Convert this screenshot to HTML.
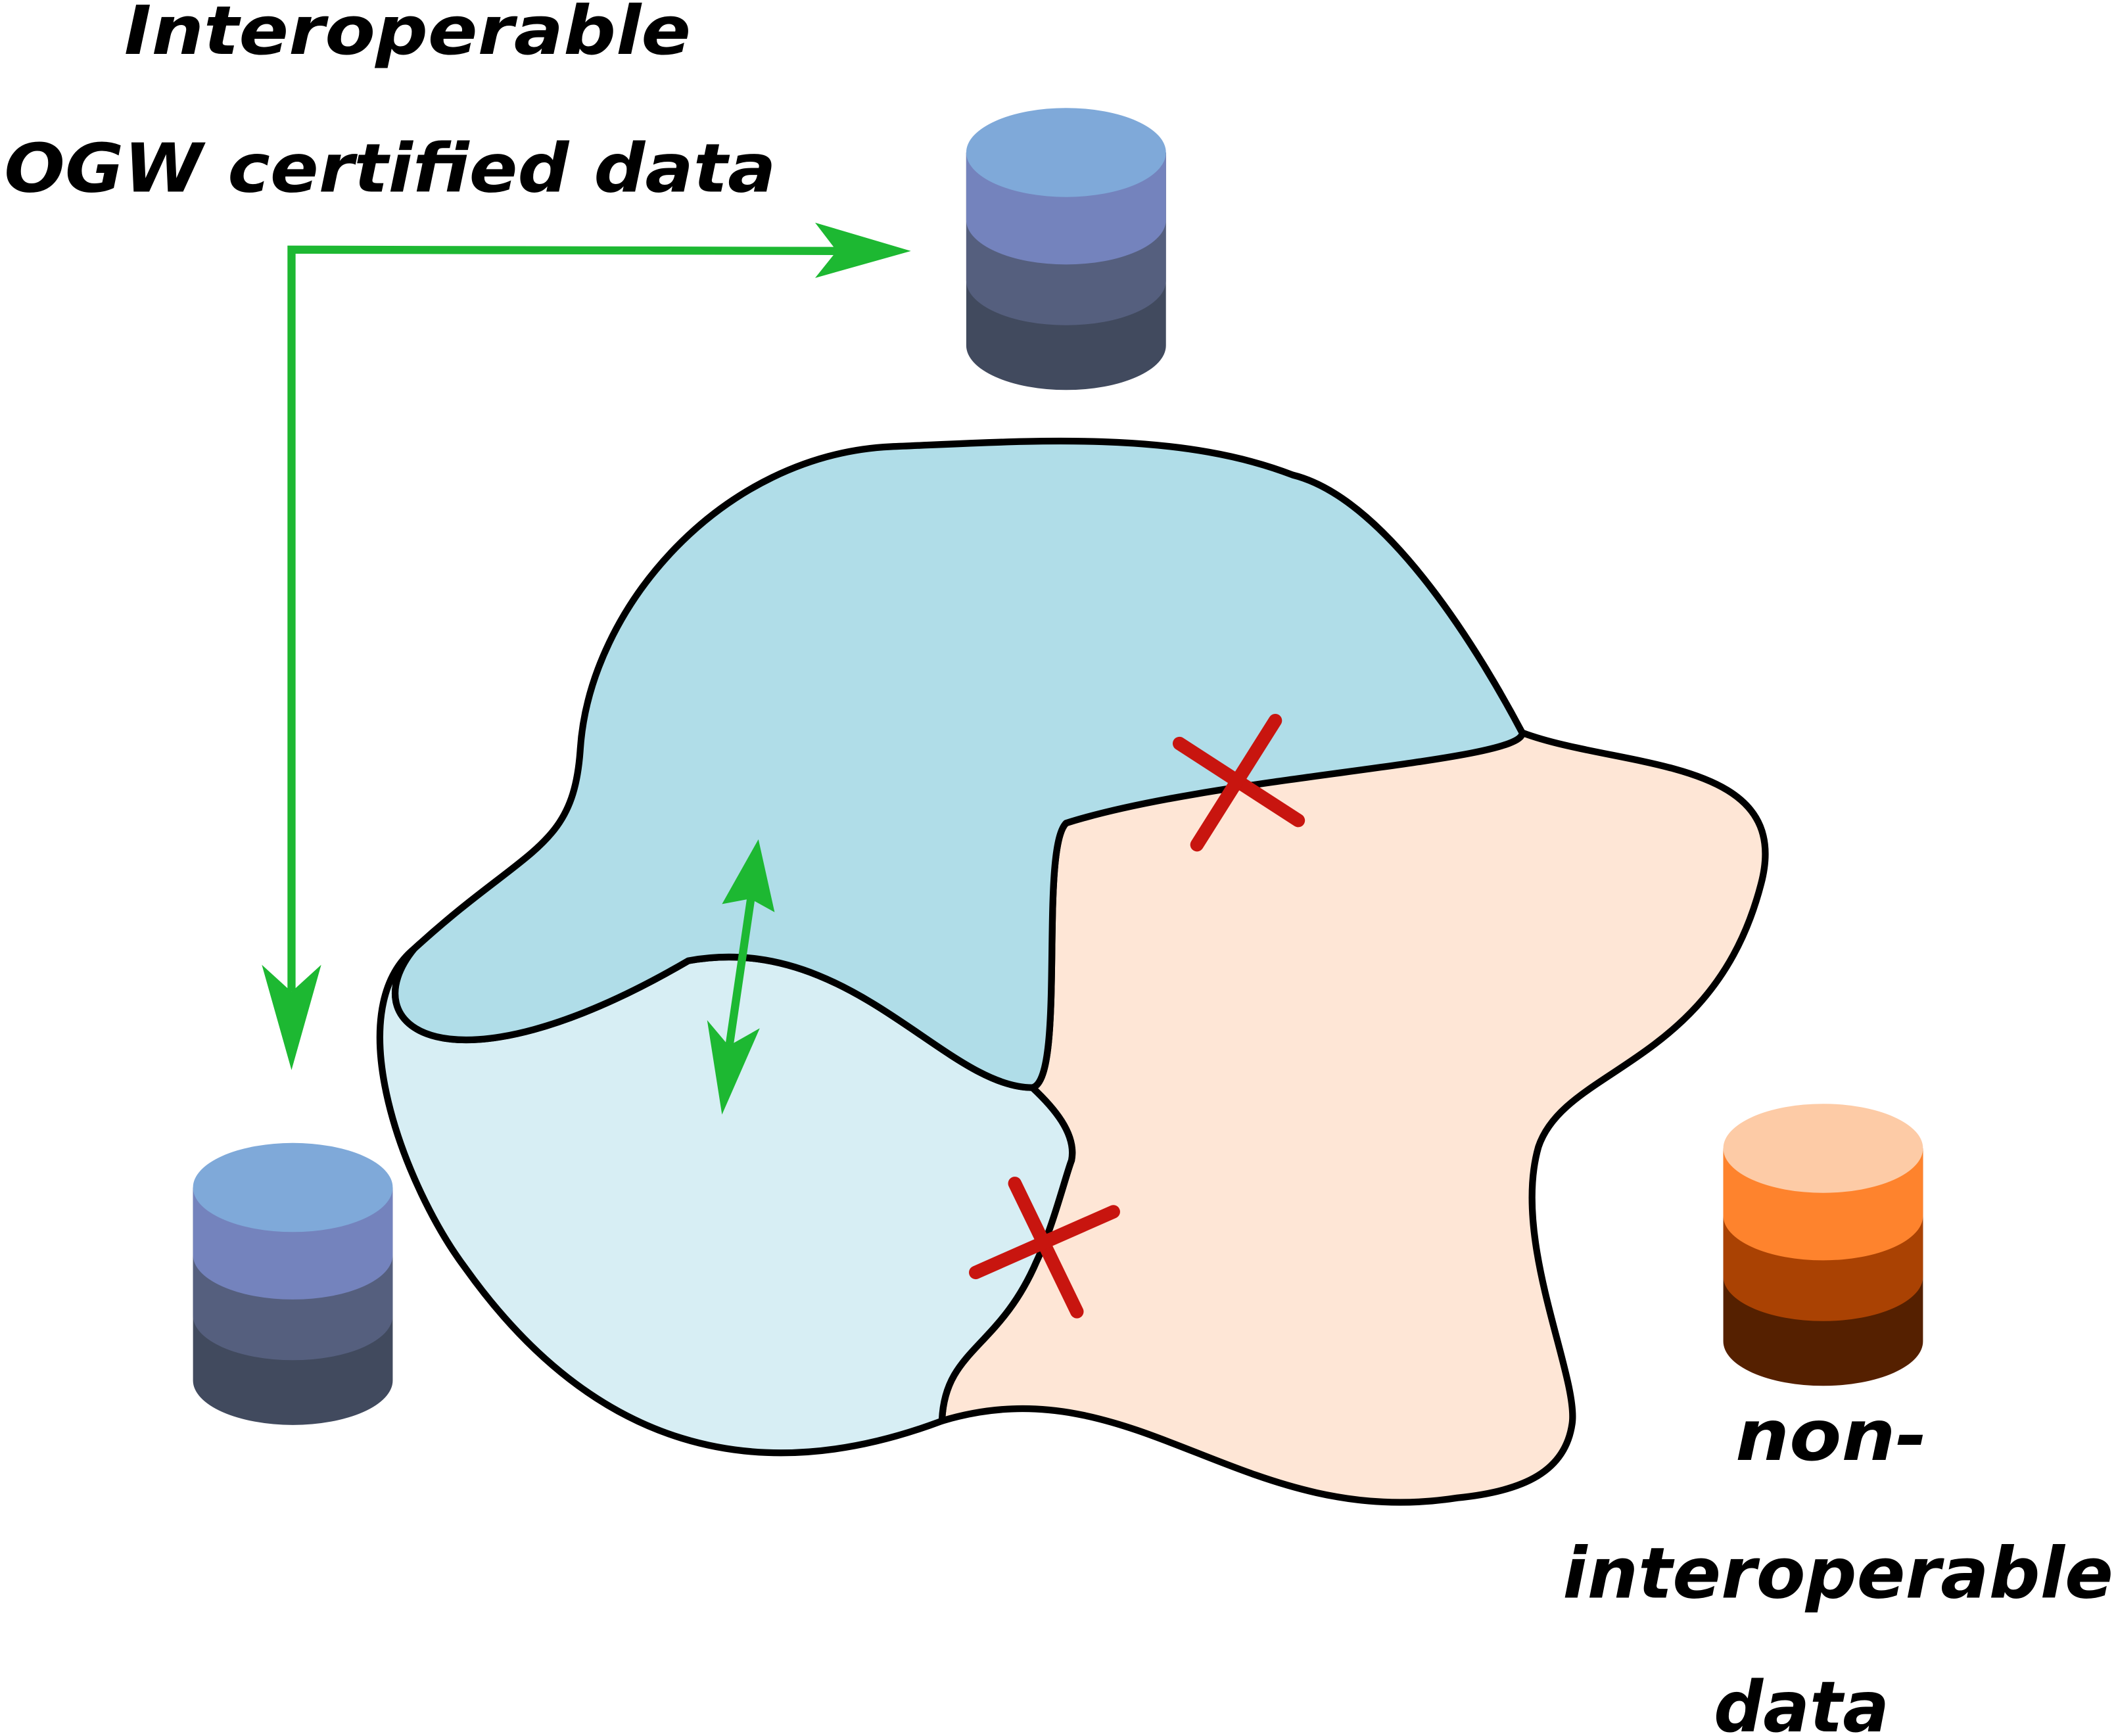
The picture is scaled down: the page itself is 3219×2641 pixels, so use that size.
<!DOCTYPE html>
<html><head><meta charset="utf-8"><style>html,body{margin:0;padding:0;background:#fff}svg{display:block}</style></head>
<body>
<svg width="3219" height="2641" viewBox="0 0 1568 1286.5" xmlns="http://www.w3.org/2000/svg">
<g font-family="DejaVu Sans, Liberation Sans, sans-serif" font-weight="bold" font-style="italic" fill="#000">
<text x="92" y="40" font-size="50" textLength="420" lengthAdjust="spacingAndGlyphs">Interoperable</text>
<text x="3" y="142" font-size="50" textLength="572" lengthAdjust="spacingAndGlyphs">OGW certified data</text>
<text x="1286" y="1082" font-size="52" textLength="142" lengthAdjust="spacingAndGlyphs">non-</text>
<text x="1158" y="1184" font-size="52" textLength="408" lengthAdjust="spacingAndGlyphs">interoperable</text>
<text x="1270" y="1283" font-size="52" textLength="130" lengthAdjust="spacingAndGlyphs">data</text>
</g>
<!-- green L arrow -->
<g stroke="#1db832" stroke-width="6" fill="none">
<polyline points="216,735 216,185 622,186"/>
</g>
<polygon points="604,165 675,186 604,206 620,186" fill="#1db832"/>
<polygon points="194,715 216,793 238,715 216,735" fill="#1db832"/>
<!-- cylinders -->
<defs>
<g id="cyl">
<path d="M-74,0 V143 A74,33 0 0 0 74,143 V0 Z" fill="#414a5e"/>
<path d="M-74,0 V95 A74,33 0 0 0 74,95 V0 Z" fill="#555f7e"/>
<path d="M-74,0 V50 A74,33 0 0 0 74,50 V0 Z" fill="#7483bd"/>
<ellipse cx="0" cy="0" rx="74" ry="33" fill="#7fa9d9"/>
</g>
<g id="cylo">
<path d="M-74,0 V143 A74,33 0 0 0 74,143 V0 Z" fill="#552000"/>
<path d="M-74,0 V95 A74,33 0 0 0 74,95 V0 Z" fill="#aa4203"/>
<path d="M-74,0 V50 A74,33 0 0 0 74,50 V0 Z" fill="#fe832d"/>
<ellipse cx="0" cy="0" rx="74" ry="33" fill="#fdcba6"/>
</g>
</defs>
<use href="#cyl" x="790" y="113"/>
<use href="#cyl" x="217" y="880"/>
<use href="#cylo" x="1351" y="851"/>
<!-- blobs -->
<g stroke="#000" stroke-width="5" stroke-linejoin="round">
<path fill="#fee6d6" d="M1128,543 C1200,570 1330,560 1305,655 C1270,790 1160,790 1140,850 C1120,920 1170,1020 1165,1055 C1160,1090 1130,1105 1080,1110 C920,1135 840,1010 698,1053 C700,1000 740,1000 768,935 C780,910 790,870 794,860 C798,840 780,820 765,806 C790,800 770,630 790,610 C830,570 1130,565 1128,543 Z"/>
<path fill="#d7eef4" d="M307,703 C250,750 300,880 345,940 C440,1073 560,1105 698,1053 C700,1000 740,1000 768,935 C780,910 790,870 794,860 C798,840 780,820 765,806 C700,806 630,690 510,712 C330,817 260,760 307,703 Z"/>
<path fill="#b0dde8" d="M307,703 C390,627 425,630 430,555 C437,450 535,337 660,331 C760,327 870,318 958,352 C1030,370 1100,490 1128,543 C1130,565 900,575 790,610 C770,630 790,800 765,806 C700,806 630,690 510,712 C330,817 260,760 307,703 Z"/>
</g>
<!-- inner green double arrow -->
<line x1="557" y1="662" x2="540" y2="778" stroke="#1db832" stroke-width="6"/>
<polygon points="562,622 574,676 556,666 535,670" fill="#1db832"/>
<polygon points="535,826 524,756 540,775 563,762" fill="#1db832"/>
<!-- red X -->
<g stroke="#c8150f" stroke-width="10" stroke-linecap="round">
<line x1="874" y1="551" x2="962" y2="608"/>
<line x1="945" y1="534" x2="887" y2="626"/>
<line x1="752" y1="877" x2="798" y2="972"/>
<line x1="723" y1="943" x2="825" y2="898"/>
</g>
</svg>
</body></html>
